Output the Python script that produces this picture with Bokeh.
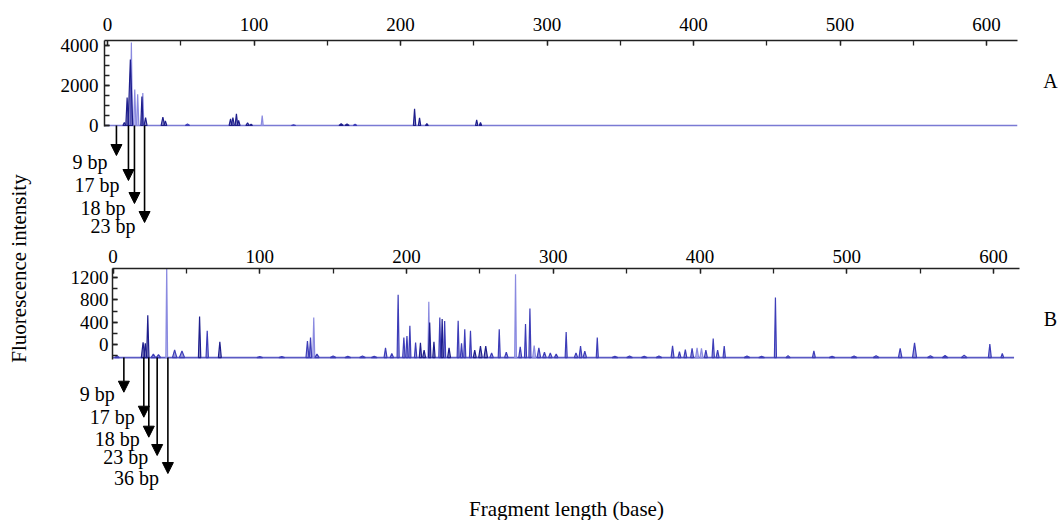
from math import pi
from bokeh.plotting import figure
from bokeh.models import (Range1d, SingleIntervalTicker, Arrow, NormalHead, ColumnDataSource, GridBox)
from bokeh.embed import file_html
from bokeh.resources import INLINE
from bokeh.core.properties import value

FONT = "Liberation Serif"

# ---------------- data ----------------
# Panel A: peak position (base), height (fluorescence), half-width (base), tone
top_pos    = [11.5, 13.4, 15.6, 16.3, 18.6, 20.6, 23.5, 24.1, 26.0, 37.8, 39.5, 54.6,
              84.0, 85.6, 88.0, 89.5, 95.6, 98.0, 105.6, 127.0, 159.5, 163.5, 169.0,
              209.6, 213.0, 218.0, 252.0, 254.6]
top_height = [150, 1400, 3300, 4150, 1800, 1560, 1450, 1620, 400, 420, 230, 80,
              330, 400, 580, 250, 130, 60, 500, 40, 90, 80, 70,
              830, 380, 100, 280, 150]
top_hw     = [1.0, 0.9, 1.6, 0.7, 0.8, 0.8, 0.8, 0.7, 1.0, 1.2, 1.0, 1.5,
              1.0, 1.0, 0.9, 1.0, 1.2, 1.0, 0.7, 1.5, 1.5, 1.5, 1.2,
              0.8, 0.8, 1.0, 0.8, 0.8]
top_tone   = ["dark", "dark", "dark", "light", "light", "light", "dark", "light", "dark", "dark", "dark", "mid",
              "dark", "dark", "dark", "dark", "dark", "dark", "light", "mid", "dark", "dark", "mid",
              "dark", "dark", "dark", "dark", "dark"]
top_baseline = 0
top_extent = [-2.0, 621.0]

# Panel B
bot_pos    = [2.8, 20.5, 22.0, 23.7, 27.5, 31.0, 36.6, 42.0, 47.0, 59.0, 64.2, 72.8,
              100.0, 115.0, 132.5, 134.6, 136.8, 139.0, 150.0, 160.0, 170.0, 178.0,
              185.7, 190.0, 194.3, 198.2, 200.3, 202.3, 206.2, 209.5, 212.0, 215.2, 215.8,
              218.7, 222.7, 224.3, 226.0, 229.0, 235.2, 237.5, 239.7, 243.6, 246.5, 250.4,
              254.0, 258.0, 263.2, 268.0, 274.3, 277.5, 281.1, 284.1, 287.0, 290.2, 294.0,
              298.0, 302.0, 308.8, 315.5, 318.6, 321.5, 330.0, 342.0, 352.0, 362.0, 372.0,
              381.3, 386.0, 390.0, 394.6, 398.0, 401.0, 404.0, 409.0, 412.0, 416.5, 432.0,
              442.0, 451.4, 460.0, 477.6, 490.0, 505.0, 520.0, 536.4, 546.2, 557.0, 567.0,
              580.0, 597.5, 606.0]
bot_height = [-200, 40, 20, 525, -170, -180, 1420, -95, -115, 500, 245, 50,
              -215, -215, 60, 125, 485, -170, -205, -210, -205, -210,
              -60, -160, 890, 125, 150, 335, 35, 30, -100, 765, 395,
              50, 485, 455, 420, -60, 425, 20, 275, 245, -100, -30,
              -30, -150, 275, -140, 1260, -40, 365, 645, -20, -60, -140,
              -150, -170, 225, -150, -30, -120, 125, -210, -205, -210, -205,
              -25, -130, -90, -70, -60, -70, -100, 107, -100, -30, -205,
              -210, 840, -200, -115, -210, -205, -200, -70, 30, -200, -195,
              -190, 10, -160]
bot_hw     = [1.5, 1.2, 1.0, 0.8, 1.5, 1.5, 0.6, 1.5, 1.8, 0.8, 0.8, 1.0,
              2.0, 2.0, 1.0, 0.8, 0.7, 1.5, 2.0, 2.0, 2.0, 2.0,
              1.0, 1.2, 0.7, 0.8, 0.8, 0.7, 0.8, 0.8, 1.0, 0.6, 0.8,
              0.8, 0.7, 0.7, 0.7, 1.0, 0.7, 0.8, 0.7, 0.7, 1.0, 1.2,
              1.2, 1.2, 0.7, 1.2, 0.6, 1.0, 0.7, 0.7, 1.0, 1.2, 1.2,
              1.2, 1.2, 0.7, 1.2, 1.0, 1.2, 0.7, 2.0, 2.0, 2.0, 2.0,
              1.0, 1.0, 1.0, 1.0, 1.0, 1.0, 1.0, 0.8, 1.0, 0.8, 2.0,
              2.0, 0.7, 1.5, 1.0, 2.0, 2.0, 2.0, 1.2, 1.4, 2.0, 2.0,
              2.0, 1.0, 1.0]
bot_tone   = ["mid", "dark", "dark", "dark", "mid", "mid", "light", "mid", "mid", "dark", "mid", "dark",
              "mid", "mid", "mid", "mid", "light", "mid", "mid", "mid", "mid", "mid",
              "mid", "mid", "mid", "mid", "mid", "mid", "mid", "dark", "dark", "light", "dark",
              "dark", "mid", "dark", "mid", "dark", "mid", "mid", "mid", "mid", "dark", "dark",
              "dark", "mid", "mid", "mid", "light", "mid", "mid", "mid", "light", "mid", "mid",
              "mid", "mid", "mid", "mid", "mid", "mid", "mid", "mid", "mid", "mid", "mid",
              "mid", "mid", "mid", "mid", "light", "light", "mid", "mid", "mid", "mid", "mid",
              "mid", "mid", "mid", "mid", "mid", "mid", "mid", "mid", "mid", "mid", "mid",
              "mid", "mid", "mid"]
bot_baseline = -235
bot_extent = [0.0, 614.0]

# Marked fragments (arrows)
top_arrow_labels = ["9 bp", "17 bp", "18 bp", "23 bp"]
top_arrow_pos    = [6.1, 14.3, 18.4, 25.3]
bot_arrow_labels = ["9 bp", "17 bp", "18 bp", "23 bp", "36 bp"]
bot_arrow_pos    = [7.4, 21.0, 24.4, 30.1, 37.4]

x_title = "Fragment length (base)"
y_title = "Fluorescence intensity"
panel_names = ["A", "B"]

# ---------------- layout / style ----------------
TONE = {"dark": "#1e1e8c", "mid": "#3d3db8", "light": "#8a8ae0"}
ORDER = {"light": 0, "mid": 1, "dark": 2}

W = 1058
TOP_H, BOT_H = 232, 288
H = TOP_H + BOT_H

# top panel geometry (pixel position of data zero, scale)
T_X0PX, T_XPX = 107.0, 1.465      # px of x=0, px per base
T_Y0PX, T_YUPP = 125.0, 50.0      # px of y=0, units per px
T_LEFT, T_TOP = 104, 40
# bottom panel geometry
B_X0PX, B_XPX = 112.5, 1.4675
B_Y0PX, B_YUPP = 344.0, 17.92
B_LEFT, B_TOP = 112, 268

top_arrow_tip = [-1500, -2750, -3900, -4850]
top_label_y   = [-1800, -2950, -4100, -5000]
bot_arrow_tip = [-855, -1303, -1661, -1989, -2312]
bot_label_y   = [-887, -1299, -1694, -2016, -2401]


def peak_source(pos, height, hw, tone, base):
    idx = sorted(range(len(pos)), key=lambda i: ORDER[tone[i]])
    xs, ys, cols = [], [], []
    for i in idx:
        xs.append([pos[i] - hw[i], pos[i], pos[i] + hw[i]])
        ys.append([base, height[i], base])
        cols.append(TONE[tone[i]])
    return ColumnDataSource(dict(xs=xs, ys=ys, c=cols))


def style_axes(p, size):
    for ax in (p.xaxis[0], p.yaxis[0]):
        ax.axis_line_color = "#222222"
        ax.axis_line_width = 1.5
        ax.major_tick_line_color = "#222222"
        ax.minor_tick_line_color = "#222222"
        ax.major_tick_line_width = 1.3
        ax.minor_tick_line_width = 1.3
        ax.major_tick_in = 5
        ax.major_tick_out = 0
        ax.minor_tick_in = 5
        ax.minor_tick_out = 0
        ax.major_label_text_font = FONT
        ax.major_label_text_font_size = size
        ax.major_label_text_color = "black"
    p.grid.visible = False
    p.outline_line_color = None


def add_arrows(p, xs, tips, base):
    for x, t in zip(xs, tips):
        p.add_layout(Arrow(end=NormalHead(size=11, fill_color="black", line_color="black", line_width=1),
                           x_start=x, y_start=base, x_end=x, y_end=t,
                           line_color="black", line_width=1.6))


def panel(height, offset_y, top_px, left_px, x0px, xpx, y0px, yupp):
    fw = W - left_px
    frame_top_local = top_px - offset_y
    fh = height - frame_top_local
    x_start = (left_px - x0px) / xpx
    y_end = (y0px - top_px) * yupp
    p = figure(width=W, height=height,
               x_range=Range1d(x_start, x_start + fw / xpx),
               y_range=Range1d(y_end - fh * yupp, y_end),
               x_axis_location="above", toolbar_location=None, output_backend="svg",
               min_border_left=left_px, min_border_top=frame_top_local,
               min_border_right=0, min_border_bottom=0, frame_align=False)
    return p, x_start, y_end


# ---- top panel ----
top, tx0, ty1 = panel(TOP_H, 0, T_TOP, T_LEFT, T_X0PX, T_XPX, T_Y0PX, T_YUPP)
top.xaxis.ticker = SingleIntervalTicker(interval=100, num_minor_ticks=2)
top.yaxis.ticker = SingleIntervalTicker(interval=2000, num_minor_ticks=4)
top.xaxis.bounds = (tx0, top_extent[1])
top.yaxis.bounds = (-60, ty1)
style_axes(top, "19px")
top.xaxis.major_label_standoff = 10
top.yaxis.major_label_standoff = 6
top.line(top_extent, [top_baseline, top_baseline], line_color="#7a7ad4", line_width=1.6)
top.patches("xs", "ys", source=peak_source(top_pos, top_height, top_hw, top_tone, top_baseline),
            fill_color="c", line_color="c", fill_alpha=0.5, line_width=1.2)
add_arrows(top, top_arrow_pos, top_arrow_tip, top_baseline)

# ---- bottom panel ----
bot, bx0, by1 = panel(BOT_H, TOP_H, B_TOP, B_LEFT, B_X0PX, B_XPX, B_Y0PX, B_YUPP)
bot.xaxis.ticker = SingleIntervalTicker(interval=100, num_minor_ticks=2)
bot.yaxis.ticker = SingleIntervalTicker(interval=400, num_minor_ticks=2)
bot.xaxis.bounds = (bx0, 618)
bot.yaxis.bounds = (-269, by1)
style_axes(bot, "19px")
bot.xaxis.major_label_standoff = 6
bot.yaxis.major_label_standoff = 4
bot.line(bot_extent, [bot_baseline, bot_baseline], line_color="#5a5ac4", line_width=1.6)
bot.patches("xs", "ys", source=peak_source(bot_pos, bot_height, bot_hw, bot_tone, bot_baseline),
            fill_color="c", line_color="c", fill_alpha=0.5, line_width=1.2)
add_arrows(bot, bot_arrow_pos, bot_arrow_tip, bot_baseline)

# ---- transparent overlay for free texts, sharing both panels' scales ----
ov = figure(width=W, height=H,
            x_range=Range1d(-T_X0PX / T_XPX, (W - T_X0PX) / T_XPX),
            y_range=Range1d((T_Y0PX - H) * T_YUPP, T_Y0PX * T_YUPP),
            x_axis_type=None, y_axis_type=None, toolbar_location=None, output_backend="svg",
            min_border=0, background_fill_color=None, border_fill_color=None, frame_align=False)
ov.extra_x_ranges = {"bx": Range1d(-B_X0PX / B_XPX, (W - B_X0PX) / B_XPX)}
ov.extra_y_ranges = {"by": Range1d((B_Y0PX - H) * B_YUPP, B_Y0PX * B_YUPP)}
ov.grid.visible = False
ov.outline_line_color = None

txt = dict(text_font=value(FONT), text_font_size="20px", text_color="black", text_baseline="middle")
big = dict(txt, text_font_size="21px")
ov.text(x=top_arrow_pos, y=top_label_y, text=top_arrow_labels, x_offset=-9, text_align="right", **txt)
ov.text(x=bot_arrow_pos, y=bot_label_y, text=bot_arrow_labels, x_offset=-9, text_align="right",
        x_range_name="bx", y_range_name="by", **txt)
ov.text(x=[(1050 - T_X0PX) / T_XPX], y=[(T_Y0PX - 80) * T_YUPP], text=[panel_names[0]],
        text_align="center", **txt)
ov.text(x=[(1050 - B_X0PX) / B_XPX], y=[(B_Y0PX - 318) * B_YUPP], text=[panel_names[1]],
        text_align="center", x_range_name="bx", y_range_name="by", **txt)
ov.text(x=[(566 - B_X0PX) / B_XPX], y=[(B_Y0PX - 508) * B_YUPP], text=[x_title],
        text_align="center", x_range_name="bx", y_range_name="by", **big)
ov.text(x=[(18 - T_X0PX) / T_XPX], y=[(T_Y0PX - 268) * T_YUPP], text=[y_title], angle=pi / 2,
        text_align="center", **big)

layout = GridBox(children=[(top, 0, 0), (bot, 1, 0), (ov, 0, 0, 2, 1)])
open("out.html", "w").write(file_html(layout, INLINE))
